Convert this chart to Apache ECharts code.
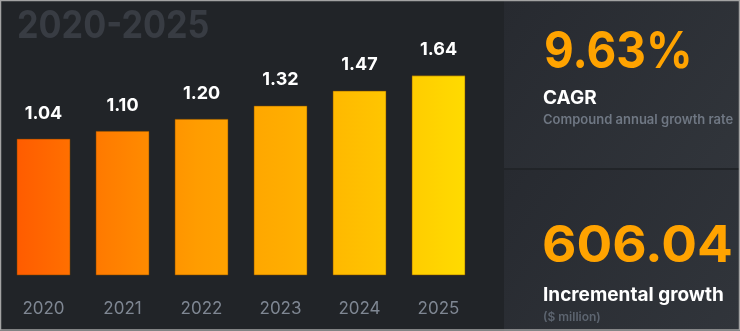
<!DOCTYPE html>
<html>
<head>
<meta charset="utf-8">
<script src="https://cdn.jsdelivr.net/npm/echarts@6/dist/echarts.min.js"></script>
<style>
html,body{margin:0;padding:0;background:#212428;}
#chart{width:740px;height:331px;}
</style>
</head>
<body>
<div id="chart"></div>
<script>
const years = ['2020', '2021', '2022', '2023', '2024', '2025'];
const marketValues = [1.04, 1.10, 1.20, 1.32, 1.47, 1.64];
const periodTitle = '2020-2025';
const cagrValue = '9.63%';
const cagrLabel = 'CAGR';
const cagrSub = 'Compound annual growth rate';
const incrementValue = '606.04';
const incrementLabel = 'Incremental growth';
const incrementSub = '($ million)';

const FONT = 'Inter, "Noto Sans", sans-serif';
const chart = echarts.init(document.getElementById('chart'), null, {renderer: 'canvas'});

const barGradient = new echarts.graphic.LinearGradient(17, 0, 465, 0, [
  {offset: 0, color: '#ff5c00'},
  {offset: 0.2, color: '#ff7d00'},
  {offset: 0.4, color: '#ff9c00'},
  {offset: 0.6, color: '#ffad00'},
  {offset: 0.8, color: '#ffc300'},
  {offset: 1, color: '#ffdb00'}
], true);

function renderBar(params, api) {
  const top = api.coord([api.value(0), api.value(1)]);
  const cs = params.coordSys;
  const base = cs.y + cs.height;
  const w = Math.round(api.size([1, 0])[0] * 0.67);
  return {
    type: 'group',
    children: [
      {type: 'rect', shape: {x: top[0] - w / 2, y: top[1], width: w, height: base - top[1]},
        style: {fill: barGradient, stroke: 'rgba(120,70,0,0.5)', lineWidth: 1}},
      {type: 'text', x: top[0], y: top[1] - 17,
        style: {text: api.value(1).toFixed(2), fill: '#ffffff', font: 'bold 18px ' + FONT,
          align: 'center', verticalAlign: 'bottom'}}
    ]
  };
}

const panelFill = () => new echarts.graphic.LinearGradient(0, 0, 1, 1,
  [{offset: 0, color: '#272a30'}, {offset: 1, color: '#31353b'}]);

const option = {
  backgroundColor: '#212428',
  animation: false,
  grid: {left: 4, right: 262, top: 40, bottom: 56},
  xAxis: {
    type: 'category',
    data: years,
    axisLine: {show: false},
    axisTick: {show: false},
    axisLabel: {color: '#7f8793', fontSize: 17, fontFamily: FONT, margin: 25}
  },
  yAxis: {
    type: 'log',
    min: 0.391,
    max: 2.123,
    show: false,
    splitLine: {show: false}
  },
  series: [{
    type: 'custom',
    renderItem: renderBar,
    data: marketValues.map((v, i) => [i, v])
  }],
  graphic: [
    {type: 'rect', z: -10, shape: {x: 504, y: 0, width: 236, height: 168}, style: {fill: panelFill()}},
    {type: 'rect', z: -10, shape: {x: 504, y: 170, width: 236, height: 161}, style: {fill: panelFill()}},
    {type: 'rect', z: 100, shape: {x: 0.5, y: 0.5, width: 739, height: 329.5},
      style: {fill: 'none', stroke: '#a3a3a3', lineWidth: 1.5}},
    {type: 'text', x: 17, y: 27, scaleX: 0.9, style: {text: periodTitle, fill: '#383c43', font: 'bold 38px ' + FONT, verticalAlign: 'middle'}},
    {type: 'text', x: 544, y: 53, scaleX: 0.9, style: {text: cagrValue, fill: '#ffa300', font: 'bold 51px ' + FONT, verticalAlign: 'middle'}},
    {type: 'text', x: 543, y: 98, style: {text: cagrLabel, fill: '#ffffff', font: 'bold 19px ' + FONT, verticalAlign: 'middle'}},
    {type: 'text', x: 543, y: 120, style: {text: cagrSub, fill: '#6f7783', font: '600 13px ' + FONT, verticalAlign: 'middle'}},
    {type: 'text', x: 542, y: 247, scaleX: 1.04, style: {text: incrementValue, fill: '#ffa300', font: 'bold 51px ' + FONT, verticalAlign: 'middle'}},
    {type: 'text', x: 543, y: 295, style: {text: incrementLabel, fill: '#ffffff', font: 'bold 19px ' + FONT, verticalAlign: 'middle'}},
    {type: 'text', x: 543, y: 317, style: {text: incrementSub, fill: '#5d6570', font: '600 12px ' + FONT, verticalAlign: 'middle'}}
  ]
};
chart.setOption(option);
</script>
</body>
</html>
